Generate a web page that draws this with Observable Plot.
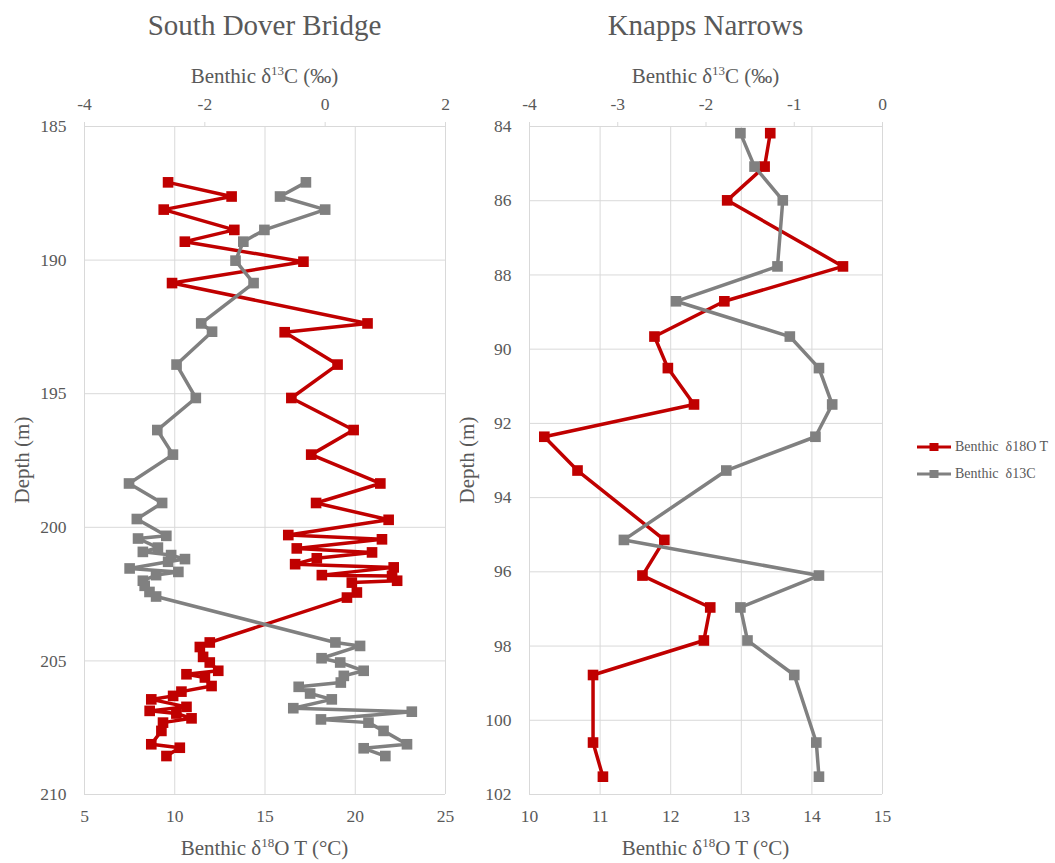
<!DOCTYPE html>
<html>
<head>
<meta charset="utf-8">
<script src="https://cdn.jsdelivr.net/npm/d3@7"></script>
<script src="https://cdn.jsdelivr.net/npm/@observablehq/plot@0.6"></script>
<style>
  body { margin: 0; background: #fff; }
  #chart { position: relative; width: 1055px; height: 863px; font-family: "Liberation Serif", "DejaVu Serif", serif; color: #595959; overflow: hidden; }
  .lab { position: absolute; white-space: nowrap; transform: translate(-50%, -50%); line-height: 1; }
  .lab sup { font-size: 0.62em; vertical-align: 0.55em; line-height: 0; }
  .panel { position: absolute; top: 0; }
  .legend { position: absolute; left: 917px; font-size: 14px; line-height: 1; }
  .legend div { display: flex; align-items: center; height: 27px; }
  .legend svg { margin-right: 4px; }
</style>
</head>
<body>
<div id="chart"></div>
<script>
// South Dover Bridge core: benthic foraminifera isotopes by depth (m)
const sdbDepthT = [187.09, 187.62, 188.11, 188.87, 189.31, 190.06, 190.86, 192.37, 192.70, 193.91,
  195.16, 196.36, 197.28, 198.36, 199.09, 199.72, 200.29, 200.45, 200.79, 200.94,
  201.16, 201.38, 201.50, 201.79, 201.82, 202.00, 202.07, 202.44, 202.63, 204.31,
  204.48, 204.85, 205.06, 205.37, 205.50, 205.62, 205.94, 206.15, 206.31, 206.44,
  206.72, 206.87, 206.97, 207.15, 207.31, 207.62, 208.12, 208.25, 208.56];
const sdbTemp = [9.63, 13.15, 9.39, 13.30, 10.56, 17.13, 9.85, 20.68, 16.09, 19.02,
  16.46, 19.91, 17.56, 21.39, 17.83, 21.85, 16.29, 21.48, 16.76, 20.93,
  17.87, 16.67, 22.13, 18.15, 22.04, 22.32, 19.81, 20.09, 19.54, 11.94,
  11.39, 11.57, 11.94, 12.41, 10.65, 11.67, 12.04, 10.37, 9.91, 8.70,
  10.65, 8.61, 10.09, 10.93, 9.35, 9.26, 8.70, 10.28, 9.54];
const sdbDepthC = [187.09, 187.62, 188.11, 188.87, 189.31, 190.02, 190.86, 192.37, 192.68, 193.91,
  195.16, 196.36, 197.28, 198.36, 199.09, 199.69, 200.32, 200.42, 200.76, 200.92,
  201.04, 201.19, 201.29, 201.54, 201.67, 201.79, 202.00, 202.19, 202.42, 202.59,
  204.31, 204.44, 204.90, 205.06, 205.37, 205.56, 205.81, 205.97, 206.22, 206.44,
  206.77, 206.90, 207.19, 207.31, 207.62, 208.12, 208.27, 208.56];
const sdbCarbon = [-0.32, -0.75, 0.00, -1.01, -1.36, -1.49, -1.19, -2.06, -1.88, -2.47,
  -2.15, -2.79, -2.53, -3.26, -2.71, -3.13, -2.64, -3.11, -2.78, -3.03,
  -2.56, -2.33, -2.61, -3.25, -2.44, -2.81, -3.03, -3.00, -2.92, -2.81,
  0.17, 0.58, -0.06, 0.25, 0.64, 0.31, 0.26, -0.44, -0.25, 0.11,
  -0.53, 1.44, -0.07, 0.72, 0.97, 1.36, 0.64, 1.00];

// Knapps Narrows core
const knDepth = [84.18, 85.08, 85.99, 87.77, 88.71, 89.66, 90.51, 91.49, 92.36, 93.27,
  95.14, 96.10, 96.96, 97.85, 98.78, 100.60, 101.52];
const knTemp = [13.41, 13.33, 12.80, 14.44, 12.76, 11.77, 11.96, 12.33, 10.21, 10.68,
  11.91, 11.60, 12.56, 12.47, 10.90, 10.90, 11.04];
const knCarbon = [-1.61, -1.45, -1.13, -1.19, -2.34, -1.05, -0.72, -0.57, -0.76, -1.77,
  -2.93, -0.72, -1.61, -1.53, -1.00, -0.75, -0.72];

// Axis ticks
const sdbDepthTicks = [185, 190, 195, 200, 205, 210];
const sdbTempTicks = [5, 10, 15, 20, 25];
const sdbCarbonTicks = [-4, -2, 0, 2];
const knDepthTicks = [84, 86, 88, 90, 92, 94, 96, 98, 100, 102];
const knTempTicks = [10, 11, 12, 13, 14, 15];
const knCarbonTicks = [-4, -3, -2, -1, 0];

const titles = ["South Dover Bridge", "Knapps Narrows"];
const seriesNames = ["Benthic  δ18O T", "Benthic  δ13C"];

const RED = "#C00000";
const GREY = "#808080";
const GRID = "#d9d9d9";
const FONT = '"Liberation Serif", "DejaVu Serif", serif';
const fmt = d => String(d);

const chart = document.getElementById("chart");

function label(html, x, y, size, rotate) {
  const el = document.createElement("div");
  el.className = "lab";
  el.innerHTML = html;
  el.style.left = x + "px";
  el.style.top = y + "px";
  el.style.fontSize = size + "px";
  if (rotate) el.style.transform = "translate(-50%, -50%) rotate(-90deg)";
  chart.appendChild(el);
}

function panel(p) {
  const common = {
    width: p.width,
    height: 863,
    marginLeft: p.frameL - p.left,
    marginRight: p.left + p.width - p.frameR,
    marginTop: 126,
    marginBottom: 69
  };
  const style = {fontFamily: FONT, fontSize: "17.5px", color: "#595959", background: "transparent", overflow: "visible"};
  const rowsT = p.depthT.map((d, i) => ({depth: d, value: p.temp[i]}));
  const rowsC = p.depthC.map((d, i) => ({depth: d, value: p.carbon[i]}));

  // temperature on the bottom axis, with the grid and depth axis
  const base = Plot.plot({
    ...common,
    style,
    x: {domain: p.tDomain, label: null},
    y: {domain: p.yDomain, reverse: true, label: null},
    marks: [
      Plot.gridX(p.tTicks, {stroke: GRID, strokeOpacity: 1, strokeWidth: 1}),
      Plot.gridY(p.yTicks, {stroke: GRID, strokeOpacity: 1, strokeWidth: 1}),
      Plot.axisX(p.tTicks, {anchor: "bottom", tickSize: 0, tickPadding: 15, tickFormat: fmt, label: null, fontFamily: FONT}),
      Plot.axisY(p.yTicks, {anchor: "left", tickSize: 0, tickPadding: 18, tickFormat: fmt, label: null, fontFamily: FONT}),
      Plot.line(rowsT, {x: "value", y: "depth", stroke: RED, strokeWidth: 3.5, strokeLinejoin: "round"}),
      Plot.dot(rowsT, {x: "value", y: "depth", symbol: "square", r: 6, fill: RED, stroke: null})
    ]
  });

  // carbon isotopes on the top axis, drawn over the same frame
  const over = Plot.plot({
    ...common,
    style,
    x: {domain: p.cDomain, label: null},
    y: {domain: p.yDomain, reverse: true, axis: null, label: null},
    marks: [
      Plot.axisX(p.cTicks, {anchor: "top", tickSize: 5, tickPadding: 12, stroke: GRID, tickFormat: fmt, label: null, fontFamily: FONT}),
      Plot.line(rowsC, {x: "value", y: "depth", stroke: GREY, strokeWidth: 3.5, strokeLinejoin: "round"}),
      Plot.dot(rowsC, {x: "value", y: "depth", symbol: "square", r: 6, fill: GREY, stroke: null})
    ]
  });

  for (const svg of [base, over]) {
    const wrap = document.createElement("div");
    wrap.className = "panel";
    wrap.style.left = p.left + "px";
    wrap.style.width = p.width + "px";
    wrap.appendChild(svg);
    chart.appendChild(wrap);
  }

  const cx = (p.frameL + p.frameR) / 2;
  label(p.title, cx, 25, 29);
  label("Benthic δ<sup>13</sup>C (‰)", cx, 76, 21);
  label("Benthic δ<sup>18</sup>O T (°C)", cx, 848, 21);
  label("Depth (m)", p.frameL - 62, 460, 21, true);
}

panel({
  title: titles[0], left: 0, width: 470, frameL: 84, frameR: 445,
  yDomain: [185, 210], yTicks: sdbDepthTicks,
  tDomain: [5, 25], tTicks: sdbTempTicks,
  cDomain: [-4, 2], cTicks: sdbCarbonTicks,
  depthT: sdbDepthT, temp: sdbTemp, depthC: sdbDepthC, carbon: sdbCarbon
});

panel({
  title: titles[1], left: 470, width: 430, frameL: 529, frameR: 882,
  yDomain: [84, 102], yTicks: knDepthTicks,
  tDomain: [10, 15], tTicks: knTempTicks,
  cDomain: [-4, 0], cTicks: knCarbonTicks,
  depthT: knDepth, temp: knTemp, depthC: knDepth, carbon: knCarbon
});

// legend
const legend = document.createElement("div");
legend.className = "legend";
legend.style.top = "433px";
[[seriesNames[0], RED], [seriesNames[1], GREY]].forEach(([name, color]) => {
  const row = document.createElement("div");
  row.innerHTML =
    `<svg width="34" height="10"><line x1="0" x2="34" y1="5" y2="5" stroke="${color}" stroke-width="3"/>` +
    `<rect x="12.5" y="1" width="9" height="8" fill="${color}"/></svg>` +
    `<span style="white-space:pre">${name}</span>`;
  legend.appendChild(row);
});
chart.appendChild(legend);
</script>
</body>
</html>
